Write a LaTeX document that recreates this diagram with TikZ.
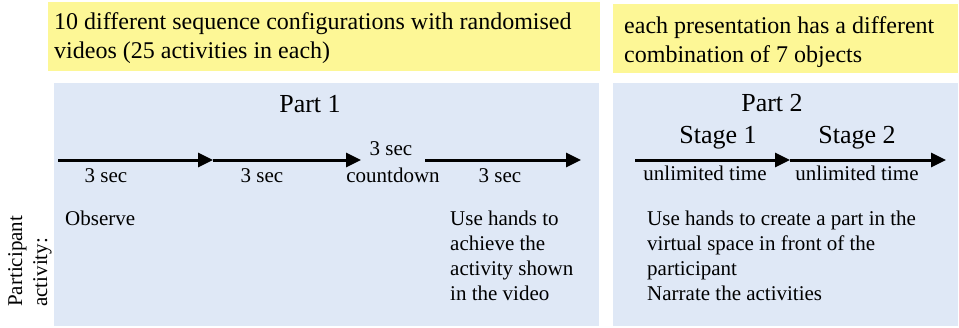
\documentclass[tikz,border=0pt]{standalone}
\usepackage{fontspec}
\setmainfont{Liberation Serif}
\usetikzlibrary{arrows.meta}
\definecolor{noteyellow}{RGB}{253,247,150}
\definecolor{partblue}{RGB}{223,232,246}
\tikzset{
  notebox/.style={fill=noteyellow, draw=none},
  partbox/.style={fill=partblue, draw=none},
  toptext/.style={anchor=north west, inner sep=0pt, align=left, font=\fontsize{24}{29}\selectfont},
  titletext/.style={anchor=base, inner sep=0pt, font=\fontsize{26}{30}\selectfont},
  smalltext/.style={anchor=base, inner sep=0pt, font=\fontsize{21}{25}\selectfont},
  acttext/.style={anchor=north west, inner sep=0pt, align=left, font=\fontsize{21}{25}\selectfont},
  timearrow/.style={line width=3pt, -{Triangle[length=15pt,width=14pt]}},
}
\begin{document}
\begin{tikzpicture}[x=1pt, y=-1pt]
\useasboundingbox (0,0) rectangle (959,327);
% boxes
\fill[notebox] (48,2) rectangle (600,71);
\fill[notebox] (613,4) rectangle (958,73);
\fill[partblue] (54,83) rectangle (599,326);
\fill[partblue] (613,83) rectangle (958,326);
% top notes
\node[toptext] (note1) at (54,12.6) {10 different sequence configurations with randomised\\videos (25 activities in each)};
\node[toptext] (note2) at (624,16.6) {each presentation has a different\\combination of 7 objects};
% titles
\node[titletext] (part1) at (310,112) {Part 1};
\node[titletext] (part2) at (772,111) {Part 2};
\node[titletext] (stage1) at (718,143) {Stage 1};
\node[titletext] (stage2) at (857,143) {Stage 2};
% arrows part 1
\coordinate (a0) at (58,160);
\coordinate (a1) at (213,160);
\coordinate (a2) at (361,160);
\coordinate (a3) at (425,160);
\coordinate (a4) at (581,160);
\draw[timearrow] (a0) -- (a1);
\draw[timearrow] (a1) -- (a2);
\draw[timearrow] (a3) -- (a4);
% arrows part 2
\coordinate (b0) at (635,160);
\coordinate (b1) at (790,160);
\coordinate (b2) at (946,160);
\draw[timearrow] (b0) -- (b1);
\draw[timearrow] (b1) -- (b2);
% time labels
\node[smalltext] (t1) at (106,182) {3 sec};
\node[smalltext] (t2) at (262,182) {3 sec};
\node[smalltext] (t3a) at (391,155) {3 sec};
\node[smalltext] (t3b) at (393,182) {countdown};
\node[smalltext] (t4) at (500,182) {3 sec};
\node[smalltext] (u1) at (705,180) {unlimited time};
\node[smalltext] (u2) at (857,180) {unlimited time};
% participant activity
\node[acttext, rotate=90] (pa) at (8,307) {Participant\\activity:};
\node[acttext] (obs) at (65,210.7) {Observe};
\node[acttext] (use1) at (450,210.7) {Use hands to\\achieve the\\activity shown\\in the video};
\node[acttext] (use2) at (647,210.7) {Use hands to create a part in the\\virtual space in front of the\\participant\\Narrate the activities};
\end{tikzpicture}
\end{document}
